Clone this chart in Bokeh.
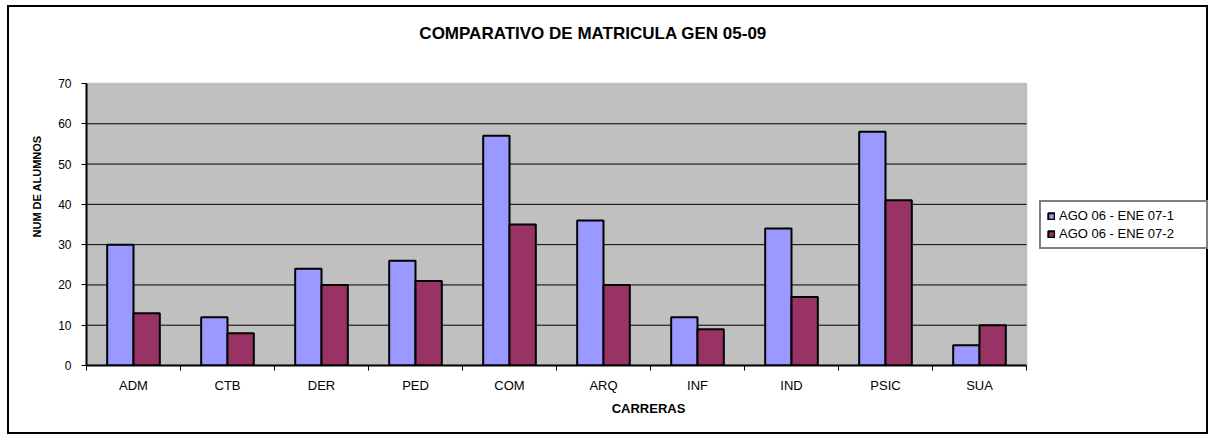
from bokeh.plotting import figure
from bokeh.models import (Range1d, LinearAxis, FixedTicker, BoxAnnotation,
                          Label, Legend, LegendItem, ColumnDataSource)
from bokeh.embed import file_html
from bokeh.resources import INLINE

# ---- data ----
categories = ["ADM", "CTB", "DER", "PED", "COM", "ARQ", "INF", "IND", "PSIC", "SUA"]
series_1 = [30, 12, 24, 26, 57, 36, 12, 34, 58, 5]
series_2 = [13, 8, 20, 21, 35, 20, 9, 17, 41, 10]
series_names = ["AGO 06 - ENE 07-1", "AGO 06 - ENE 07-2"]
y_ticks = [0, 10, 20, 30, 40, 50, 60, 70]
title_text = "COMPARATIVO DE MATRICULA GEN 05-09"
x_title = "CARRERAS"
y_title = "NUM DE ALUMNOS"

FONT = "Liberation Sans"
C1 = "#9999FF"
C2 = "#993366"

# ---- layout constants (pixels) ----
W, H = 1201, 429                 # canvas size (a 2px CSS border is added around it)
AREA_W, AREA_H = 940, 282        # grey plotting area
FRAME_W, FRAME_H = 1124, 358     # frame extended to the right/top edges
BAR_W = 0.28

n = len(categories)
y_max = y_ticks[-1]
x_end = n * FRAME_W / AREA_W
y_end = y_max * FRAME_H / AREA_H

src = ColumnDataSource(dict(
    x1=[i + 0.5 - BAR_W / 2 for i in range(n)],
    x2=[i + 0.5 + BAR_W / 2 for i in range(n)],
    s1=series_1, s2=series_2))

p = figure(x_range=Range1d(0, x_end), y_range=Range1d(0, y_end),
           width=W, height=H, output_backend="svg", toolbar_location=None,
           x_axis_location=None, y_axis_location="left", title=None,
           min_border_left=77, min_border_right=0, min_border_top=0, min_border_bottom=71)
p.styles = {"border": "2px solid black", "margin-left": "7px", "margin-top": "5px"}
p.background_fill_color = "white"
p.border_fill_color = "white"
p.outline_line_color = None
p.xgrid.grid_line_color = None
p.ygrid.grid_line_color = None

# grey plotting area with grey top/right border
p.add_layout(BoxAnnotation(left=0, right=n, bottom=0, top=y_max,
                           fill_color="#C0C0C0", fill_alpha=1,
                           line_color="#808080", line_width=2, level="underlay"))

# horizontal gridlines limited to the plotting area
grid_y = y_ticks[1:-1]
p.segment(x0=[0] * len(grid_y), x1=[n] * len(grid_y), y0=grid_y, y1=grid_y,
          line_color="black", line_width=1)

# y axis
ya = p.yaxis[0]
ya.bounds = (0, y_max)
ya.ticker = FixedTicker(ticks=y_ticks)
ya.axis_line_color = "black"
ya.axis_line_width = 2
ya.major_tick_out = 5
ya.major_tick_in = 0
ya.major_tick_line_color = "black"
ya.minor_tick_line_color = None
ya.major_label_standoff = 10
ya.major_label_text_font = FONT
ya.major_label_text_font_size = "12px"
ya.major_label_text_color = "black"
ya.axis_label = y_title
ya.axis_label_text_font = FONT
ya.axis_label_text_font_size = "11px"
ya.axis_label_text_font_style = "bold"
ya.axis_label_text_color = "black"
ya.axis_label_standoff = 12

# x axis: labels at category centres, tick marks at category boundaries
centres = [i + 0.5 for i in range(n)]
xa = LinearAxis(bounds=(0, n),
                ticker=FixedTicker(ticks=centres, minor_ticks=list(range(n + 1))),
                major_label_overrides={c: lab for c, lab in zip(centres, categories)},
                major_tick_out=0, major_tick_in=0, major_tick_line_color=None,
                minor_tick_out=5, minor_tick_in=0, minor_tick_line_color="black",
                minor_tick_line_width=1,
                axis_line_color="black", axis_line_width=2,
                major_label_standoff=7, major_label_text_font=FONT,
                major_label_text_font_size="13px", major_label_text_color="black",
                axis_label=x_title, axis_label_text_font=FONT,
                axis_label_text_font_size="13px", axis_label_text_font_style="bold",
                axis_label_text_color="black", axis_label_standoff=5)
p.add_layout(xa, "below")

# bars
r1 = p.vbar(x="x1", top="s1", width=BAR_W, source=src,
            fill_color=C1, line_color="black", line_width=2)
r2 = p.vbar(x="x2", top="s2", width=BAR_W, source=src,
            fill_color=C2, line_color="black", line_width=2)

# legend (right of the plotting area)
legend = Legend(items=[LegendItem(label=series_names[0], renderers=[r1]),
                       LegendItem(label=series_names[1], renderers=[r2])],
                location=(953, 116), orientation="vertical",
                border_line_color="black", border_line_width=2,
                background_fill_color="white", background_fill_alpha=1,
                label_text_font=FONT, label_text_font_size="13px",
                label_text_color="black", glyph_width=8, glyph_height=8,
                label_standoff=4, label_height=15, spacing=3, padding=6,
                label_width=141, margin=0)
p.add_layout(legend, "center")

# title
p.add_layout(Label(x=5.39, y=82.4, text=title_text,
                   text_font=FONT, text_font_size="17px", text_font_style="bold",
                   text_align="center", text_baseline="middle", text_color="black"))

open("out.html", "w").write(file_html(p, INLINE))
